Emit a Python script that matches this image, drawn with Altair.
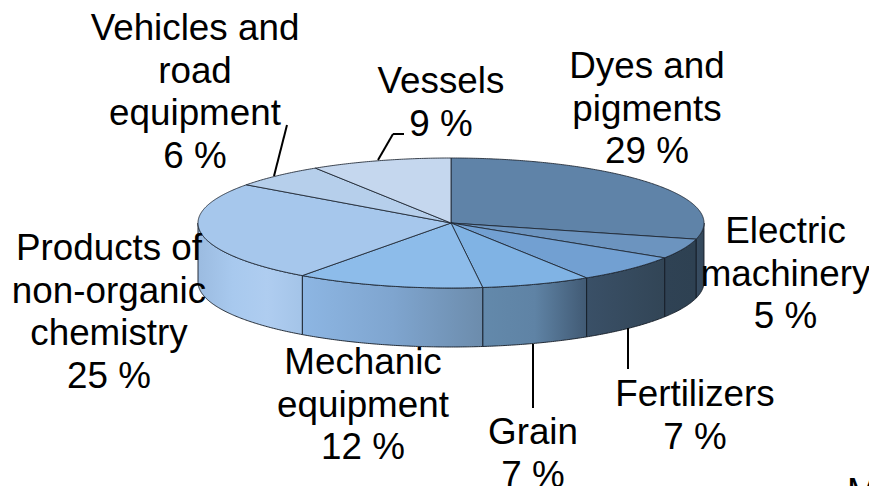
import numpy as np
import pandas as pd
import altair as alt

# ---- data ----
categories = ["Dyes and\npigments", "Electric\nmachinery", "Fertilizers", "Grain",
              "Mechanic\nequipment", "Products of\nnon-organic\nchemistry",
              "Vehicles and\nroad\nequipment", "Vessels"]
shares = [29, 5, 7, 7, 12, 25, 6, 9]

top_colors = ["#5f83a8", "#6c94bf", "#72a0d2", "#80b3e4", "#8dbcea", "#a6c7ec", "#b6cfeb", "#c5d7ee"]
wall_stops = [
    ["#384d62", "#33475a"],
    ["#2f4254", "#2e4152"],
    ["#3a5067", "#324556"],
    ["#6389ab", "#5f83a5", "#415a74"],
    ["#8db6e3", "#7fa5cf", "#6c8cac"],
    ["#9bbbe0", "#a8c9ee", "#afcdf0", "#a4c4e8"],
    None, None,
]
label_pos = [(647, 78), (785.5, 243), (695, 406), (533, 444), (363, 374), (109, 260), (195, 40), (441, 93)]
leaders = [
    (533, 344, 533, 408),
    (628, 328, 628, 369),
    (287, 125, 274, 176),
    (378, 160, 393, 134),
    (393, 134, 404, 134),
]

# ---- layout of the tilted pie ----
W, H = 861, 478
CX, CY, RX, RY, DEPTH = 451, 223, 253, 65, 59
FONT = "Liberation Sans"
FS = 36.8
LH = 42.7

x_scale = alt.Scale(domain=[-(CX - 8) / RX, (8 + W - CX) / RX], range=[0, W], nice=False, zero=False)
y_scale = alt.Scale(domain=[(CY - 8) / RY, -(8 + H - CY) / RY], range=[0, H], nice=False, zero=False)


def poly(df, **mark):
    return alt.Chart(df).mark_line(interpolate="linear-closed", clip=False, **mark).encode(
        x=alt.X("x:Q", scale=x_scale, axis=None),
        y=alt.Y("y:Q", scale=y_scale, axis=None),
        order=alt.Order("i:Q"),
    )


def arc(a, b):
    t = np.radians(np.linspace(a, b, max(int(abs(b - a) * 2), 2)))
    return np.sin(t), np.cos(t)


def gradient(stops):
    n = len(stops) - 1
    return alt.Gradient(
        gradient="linear", x1=0, x2=1, y1=0, y2=0,
        stops=[alt.GradientStop(offset=k / n, color=c) for k, c in enumerate(stops)],
    )


edges = np.cumsum([0] + shares) * 3.6
layers = []

# side walls
d = DEPTH / RY
for k, stops in enumerate(wall_stops):
    if stops is None:
        continue
    a, b = max(edges[k], 90), min(edges[k + 1], 270)
    sx, sy = arc(a, b)
    xs = np.concatenate([sx, sx[::-1]])
    ys = np.concatenate([sy, sy[::-1] - d])
    df = pd.DataFrame({"x": xs, "y": ys, "i": np.arange(len(xs))})
    layers.append(poly(df, fill=gradient(stops), stroke="#141c26", strokeWidth=1, strokeOpacity=0.9))

# top face
for k in range(len(shares)):
    sx, sy = arc(edges[k], edges[k + 1])
    xs = np.concatenate([[0], sx])
    ys = np.concatenate([[0], sy])
    df = pd.DataFrame({"x": xs, "y": ys, "i": np.arange(len(xs))})
    layers.append(poly(df, fill=top_colors[k], stroke="#1f2733", strokeWidth=1, strokeOpacity=0.85))

# leader lines
for x1, y1, x2, y2 in leaders:
    layers.append(
        alt.Chart(pd.DataFrame({"a": [0]})).mark_rule(color="#000000", strokeWidth=2).encode(
            x=alt.value(x1 - 8), y=alt.value(y1 - 8), x2=alt.value(x2 - 8), y2=alt.value(y2 - 8)
        )
    )

# labels
for name, share, (px, py) in zip(categories, shares, label_pos):
    layers.append(
        alt.Chart(pd.DataFrame({"t": [f"{name}\n{share} %"]})).mark_text(
            font=FONT, fontSize=FS, lineBreak="\n", lineHeight=LH, align="center",
            baseline="alphabetic", color="#000000",
        ).encode(x=alt.value(px - 8), y=alt.value(py - 8), text="t:N")
    )

# clipped fragment of a further text at the page corner
layers.append(
    alt.Chart(pd.DataFrame({"t": ["M"]})).mark_text(
        font=FONT, fontSize=FS, align="left", baseline="alphabetic", color="#000000"
    ).encode(x=alt.value(847 - 8), y=alt.value(504 - 8), text="t:N")
)

chart = alt.layer(*layers).properties(
    width=W, height=H, padding=0, autosize=alt.AutoSizeParams(type="none"), background="#ffffff"
).configure_view(stroke=None)

chart.save("out.html", embed_options={"renderer": "svg", "actions": False})
